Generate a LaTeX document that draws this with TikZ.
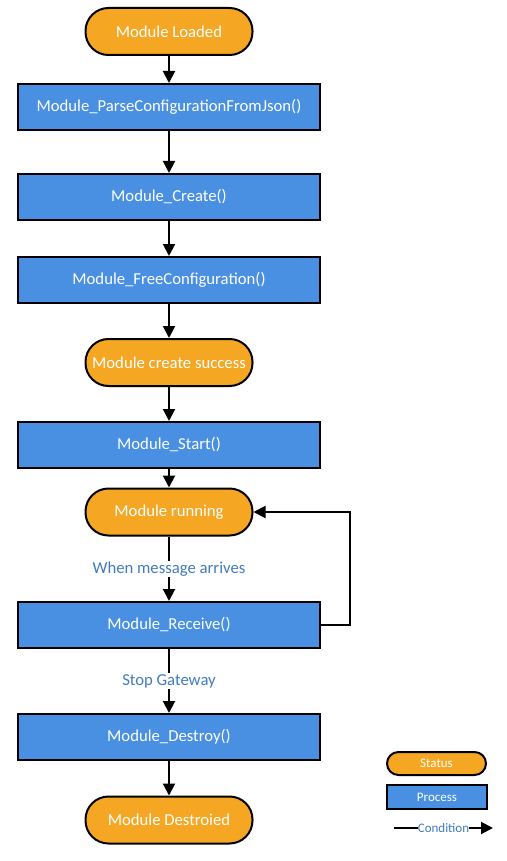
\documentclass[tikz,border=0pt]{standalone}
\usepackage{fontspec}
\setmainfont{Carlito}
\usepackage{tikz}
\usetikzlibrary{arrows.meta}

\definecolor{statusorange}{RGB}{245,167,35}
\definecolor{processblue}{RGB}{74,144,226}
\definecolor{condblue}{RGB}{64,124,190}

\tikzset{
	flow/.style={line width=2pt, -{Triangle[width=12pt,length=12pt]}},
	status/.style={draw, line width=2pt, fill=statusorange, text=white, rounded corners=23pt,
		minimum width=167pt, minimum height=47pt, inner sep=0pt, font=\fontsize{16.7}{19}\selectfont},
	process/.style={draw, line width=2pt, fill=processblue, text=white,
		minimum width=302pt, minimum height=46pt, inner sep=0pt, font=\fontsize{16.7}{19}\selectfont},
	cond/.style={fill=white, text=condblue, inner sep=1pt, font=\fontsize{16.7}{19}\selectfont},
	small/.style={font=\fontsize{13}{15}\selectfont}
}

\begin{document}
\begin{tikzpicture}[x=1pt, y=-1pt]
	\useasboundingbox (0, 0) rectangle (506, 861);

	\node[status] (loaded) at (169, 31.5) {Module Loaded};
	\node[process] (parse) at (169, 107) {Module\_ParseConfigurationFromJson()};
	\node[process] (create) at (169, 197) {Module\_Create()};
	\node[process] (freecfg) at (169, 280) {Module\_FreeConfiguration()};
	\node[status] (success) at (169, 362.5) {Module create success};
	\node[process] (start) at (169, 445) {Module\_Start()};
	\node[status] (running) at (169, 512) {Module running};
	\node[process] (receive) at (169, 625) {Module\_Receive()};
	\node[process] (destroy) at (169, 737) {Module\_Destroy()};
	\node[status] (destroied) at (169, 820) {Module Destroied};

	\draw[flow] (loaded) -- (parse);
	\draw[flow] (parse) -- (create);
	\draw[flow] (create) -- (freecfg);
	\draw[flow] (freecfg) -- (success);
	\draw[flow] (success) -- (start);
	\draw[flow] (start) -- (running);
	\draw[flow] (running) -- node[cond] {When message arrives} (receive);
	\draw[flow] (receive.east) -- ++(29, 0) |- (running.east);
	\draw[flow] (receive) -- node[cond] {Stop Gateway} (destroy);
	\draw[flow] (destroy) -- (destroied);

	\node[status, small, minimum width=99pt, minimum height=23pt, rounded corners=11.5pt] (keystatus) at (436.5, 763.5) {Status};
	\node[process, small, minimum width=100pt, minimum height=24pt] (keyprocess) at (437, 797) {Process};
	\coordinate (keyfrom) at (394, 828);
	\coordinate (keyto) at (493, 828);
	\draw[flow] (keyfrom) -- node[cond, small, inner sep=0pt] {Condition} (keyto);
\end{tikzpicture}
\end{document}
